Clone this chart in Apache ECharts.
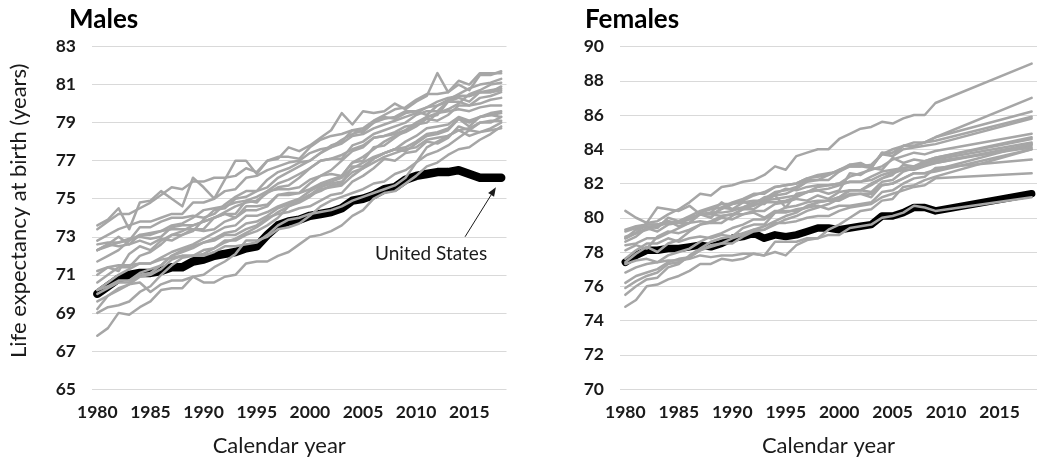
<!DOCTYPE html>
<html><head><meta charset="utf-8">
<script src="https://cdn.jsdelivr.net/npm/echarts@6/dist/echarts.min.js"></script>
<style>html,body{margin:0;padding:0;background:#fff}#c{width:1050px;height:462px}</style>
</head><body><div id="c"></div>
<script>
const years = [1980,1981,1982,1983,1984,1985,1986,1987,1988,1989,1990,1991,1992,1993,1994,1995,1996,1997,1998,1999,2000,2001,2002,2003,2004,2005,2006,2007,2008,2009,2010,2011,2012,2013,2014,2015,2016,2017,2018];
const yearTickLabels = [1980,1985,1990,1995,2000,2005,2010,2015];

// Males
const usM  = [70.0,70.4,70.8,71.0,71.1,71.1,71.2,71.4,71.4,71.7, 71.8,72.0,72.1,72.2,72.4,72.5,73.1,73.6,73.8,73.9, 74.1,74.2,74.3,74.5,74.9,75.0,75.2,75.5,75.6,76.0, 76.2,76.3,76.4,76.4,76.5,76.3,76.1,76.1,76.1];
const iceM = [73.6,73.9,74.5,73.4,74.8,74.9,75.4,75.0,74.6,76.1, 75.6,75.0,76.0,77.0,77.0,76.3,77.0,77.1,77.7,77.5, 77.8,78.2,78.6,79.5,78.9,79.6,79.5,79.6,80.0,79.7, 80.1,80.4,81.6,80.6,81.2,81.0,81.6,81.6,81.6];
const jpnM = [73.4,73.8,74.2,74.2,74.5,74.8,75.2,75.6,75.5,75.9, 75.9,76.1,76.1,76.2,76.6,76.4,77.0,77.2,77.2,77.1, 77.7,78.1,78.3,78.4,78.6,78.5,79.0,79.2,79.3,79.6, 79.6,79.4,79.9,80.2,80.5,80.8,81.0,81.1,81.3];
const sweM = [72.8,73.1,73.4,73.6,73.8,73.8,74.0,74.2,74.2,74.8, 74.8,75.0,75.4,75.5,76.1,76.2,76.5,76.7,76.9,77.0, 77.4,77.6,77.7,77.9,78.3,78.4,78.7,78.9,79.1,79.3, 79.5,79.8,79.9,80.1,80.4,80.4,80.6,80.7,80.8];
const nldM = [72.6,72.7,72.7,72.9,73.0,72.9,73.0,73.5,73.6,73.6, 73.8,74.0,74.2,74.0,74.6,74.6,74.7,75.2,75.2,75.3, 75.5,75.8,76.0,76.2,76.9,77.2,77.6,78.0,78.3,78.5, 78.8,79.2,79.1,79.4,79.9,79.9,80.0,80.2,80.3];
const norM = [72.3,72.6,72.5,72.6,72.8,72.6,72.9,72.8,73.1,73.4, 73.4,74.0,74.2,74.2,74.9,74.8,75.4,75.5,75.5,75.6, 76.0,76.2,76.5,77.0,77.5,77.7,78.2,78.3,78.4,78.6, 78.9,79.0,79.5,79.7,80.0,80.5,80.7,81.0,81.1];
const espM = [72.3,72.6,73.0,72.6,73.1,73.2,73.3,73.4,73.4,73.4, 73.3,73.4,73.8,74.0,74.4,74.4,74.6,75.2,75.3,75.3, 75.8,76.2,76.3,76.2,76.9,77.0,77.7,77.8,78.2,78.6, 79.0,79.3,79.4,80.1,80.1,79.9,80.3,80.4,80.6];
const cheM = [72.3,72.5,72.7,72.8,73.5,73.5,73.8,74.0,74.0,74.1, 74.0,74.2,74.7,75.1,75.4,75.4,76.0,76.4,76.6,76.9, 77.0,77.4,77.8,78.0,78.6,78.7,79.1,79.4,79.7,79.8, 80.2,80.5,80.5,80.6,81.0,80.7,81.5,81.5,81.7];
const canM = [71.7,72.0,72.3,72.8,73.1,73.1,73.3,73.6,73.7,74.0, 74.4,74.5,74.6,74.8,74.9,75.1,75.4,75.8,76.0,76.3, 76.6,77.0,77.1,77.3,77.6,77.8,78.2,78.3,78.5,78.8, 78.9,79.3,79.5,79.6,79.7,79.6,79.8,79.9,79.9];
const ausM = [71.0,71.4,71.2,72.1,72.5,72.3,72.8,73.1,73.1,73.3, 73.9,74.4,74.5,75.0,75.1,75.4,75.6,76.1,76.4,76.7, 77.0,77.4,77.7,78.1,78.4,78.6,79.0,79.3,79.2,79.5, 79.6,79.8,80.1,80.3,80.4,80.4,80.6,80.6,80.7];
const itaM = [70.6,71.0,71.4,71.4,72.0,72.2,72.6,73.1,73.3,73.6, 73.8,74.0,74.3,74.6,74.8,74.9,75.3,75.6,75.7,76.1, 76.6,77.0,77.1,77.1,77.8,78.0,78.4,78.6,78.8,79.0, 79.4,79.6,79.6,80.1,80.3,80.1,80.6,80.6,80.9];
const fraM = [70.2,70.4,70.7,70.7,71.1,71.3,71.5,72.0,72.3,72.5, 72.7,72.9,73.2,73.3,73.7,73.8,74.1,74.5,74.7,74.9, 75.2,75.4,75.7,75.8,76.7,76.7,77.1,77.4,77.6,77.7, 78.0,78.4,78.5,78.7,79.2,79.0,79.3,79.5,79.6];
const gbrM = [70.2,70.6,71.0,71.3,71.6,71.6,71.9,72.2,72.4,72.6, 72.9,73.2,73.5,73.6,74.1,74.1,74.3,74.6,74.8,75.0, 75.4,75.7,75.9,76.1,76.6,76.9,77.2,77.4,77.6,78.0, 78.3,78.7,78.8,78.9,79.3,79.1,79.3,79.4,79.5];
const belM = [70.0,70.3,70.6,70.6,71.0,71.1,71.5,72.0,72.2,72.4, 72.7,72.8,73.1,73.1,73.4,73.6,74.0,74.2,74.3,74.5, 74.6,74.9,75.2,75.3,75.9,76.2,76.6,77.1,77.0,77.4, 77.5,78.0,77.9,78.2,78.8,78.6,79.0,79.0,79.3];
const dnkM = [71.2,71.4,71.5,71.5,71.6,71.6,71.8,71.9,72.0,72.0, 72.0,72.2,72.5,72.5,72.6,72.7,73.1,73.6,73.9,74.0, 74.2,74.3,74.4,74.6,74.9,75.1,75.3,75.5,75.7,76.1, 76.9,77.7,78.0,78.3,78.6,78.7,79.0,79.1,79.1];
const deuM = [69.6,69.9,70.2,70.5,70.9,71.0,71.3,71.8,72.0,72.0, 72.1,72.4,72.8,72.8,73.1,73.3,73.6,74.0,74.6,74.8, 75.1,75.5,75.6,75.7,76.2,76.6,76.9,77.2,77.4,77.6, 77.7,78.1,78.2,78.3,78.6,78.3,78.5,78.6,78.7];
const finM = [69.2,69.9,70.3,70.5,70.6,70.1,70.5,70.7,70.7,70.9, 71.0,71.4,71.7,72.1,72.8,72.8,73.0,73.4,73.5,73.7, 74.1,74.6,74.9,75.1,75.3,75.5,75.8,75.9,76.3,76.5, 76.9,77.3,77.5,77.8,78.2,78.6,78.5,78.7,79.0];
const autM = [69.0,69.3,69.4,69.6,70.1,70.4,71.0,71.5,71.9,72.0, 72.3,72.4,72.7,72.9,73.2,73.5,73.9,74.3,74.6,74.9, 75.2,75.6,75.8,75.9,76.4,76.6,77.1,77.4,77.6,77.5, 77.9,78.3,78.4,78.6,79.2,78.8,79.3,79.4,79.3];
const prtM = [67.8,68.2,69.0,68.9,69.3,69.6,70.2,70.3,70.3,70.9, 70.6,70.6,70.9,71.0,71.6,71.7,71.7,72.0,72.2,72.6, 73.0,73.1,73.3,73.6,74.1,74.4,75.0,75.3,75.4,75.8, 76.2,76.7,76.9,77.3,77.6,77.7,78.1,78.4,78.8];

// Females (no yearly values 2010-2017 in the source: drawn as a straight segment to 2018)
const usF  = [77.4,77.8,78.1,78.1,78.2,78.2,78.3,78.4,78.3,78.5, 78.8,78.9,79.1,78.8,79.0,78.9,79.0,79.2,79.4,79.4, 79.3,79.4,79.5,79.6,80.1,80.1,80.3,80.6,80.6,80.4, null,null,null,null,null,null,null,null, 81.4];
const jpnF = [78.8,79.1,79.7,79.8,80.2,80.5,80.9,81.4,81.3,81.8, 81.9,82.1,82.2,82.5,83.0,82.8,83.6,83.8,84.0,84.0, 84.6,84.9,85.2,85.3,85.6,85.5,85.8,86.0,86.0,86.7, null,null,null,null,null,null,null,null, 89.0];
const islF = [80.4,80.0,79.7,80.6,80.5,80.4,80.7,80.2,80.3,80.9, 80.5,80.9,80.8,81.2,81.3,80.6,81.4,81.5,81.6,81.4, 81.6,82.6,82.5,82.9,82.8,83.5,83.2,83.4,83.3,83.5, null,null,null,null,null,null,null,null, 84.7];
const fraF = [78.4,78.5,78.8,78.8,79.1,79.4,79.7,80.3,80.5,80.6, 80.9,81.1,81.4,81.4,81.8,81.9,82.0,82.3,82.4,82.5, 82.8,83.0,83.0,82.9,83.8,83.8,84.2,84.4,84.4,84.7, null,null,null,null,null,null,null,null, 87.0];
const espF = [78.6,78.9,79.4,79.2,79.6,79.7,79.9,80.2,80.3,80.3, 80.4,80.6,80.9,81.1,81.5,81.6,81.8,82.2,82.2,82.2, 82.7,83.1,83.1,83.0,83.7,83.6,84.2,84.2,84.4,84.7, null,null,null,null,null,null,null,null, 86.2];
const cheF = [78.8,79.3,79.5,79.4,80.0,79.8,80.1,80.4,80.6,80.8, 80.8,81.0,81.3,81.5,81.8,81.9,82.0,82.3,82.5,82.6, 82.7,83.0,83.0,83.1,83.7,84.0,84.2,84.2,84.4,84.5, null,null,null,null,null,null,null,null, 85.9];
const itaF = [77.4,77.9,78.3,78.0,78.5,78.7,79.2,79.6,79.8,80.1, 80.2,80.5,80.7,81.0,81.3,81.4,81.7,82.1,82.2,82.5, 82.8,83.1,83.2,82.9,83.8,83.6,84.0,84.1,84.2,84.3, null,null,null,null,null,null,null,null, 85.8];
const ausF = [78.1,78.4,78.2,78.9,79.2,79.1,79.3,79.6,79.7,79.7, 80.1,80.5,80.5,80.9,80.9,81.0,81.2,81.5,81.8,81.9, 82.0,82.4,82.6,82.8,83.0,83.4,83.6,83.8,83.7,83.9, null,null,null,null,null,null,null,null, 84.9];
const sweF = [78.8,79.1,79.4,79.6,79.8,79.7,80.0,80.2,80.0,80.6, 80.5,80.6,80.8,80.8,81.4,81.7,81.6,81.8,81.9,81.9, 82.0,82.1,82.1,82.4,82.7,82.8,82.9,83.0,83.2,83.4, null,null,null,null,null,null,null,null, 84.4];
const norF = [79.3,79.5,79.6,79.6,79.8,79.5,79.7,79.8,79.7,80.0, 79.9,80.2,80.4,80.4,80.8,80.9,81.1,81.0,81.3,81.1, 81.5,81.6,81.6,82.0,82.3,82.6,82.8,82.8,83.0,83.2, null,null,null,null,null,null,null,null, 84.3];
const finF = [77.6,78.1,78.5,78.5,78.8,78.6,78.8,78.9,78.8,79.0, 78.9,79.4,79.6,79.6,80.3,80.3,80.5,80.6,80.9,81.0, 81.2,81.6,81.6,81.9,82.3,82.5,83.1,83.0,83.3,83.5, null,null,null,null,null,null,null,null, 84.6];
const autF = [75.5,76.0,76.4,76.5,77.1,77.3,77.8,78.2,78.6,78.8, 78.9,79.1,79.3,79.5,79.8,80.1,80.3,80.7,80.9,81.0, 81.2,81.6,81.6,81.5,82.1,82.2,82.7,82.9,83.1,83.2, null,null,null,null,null,null,null,null, 84.2];
const canF = [78.9,79.1,79.3,79.5,79.7,79.8,80.0,80.2,80.2,80.5, 80.8,80.9,81.0,81.0,81.1,81.2,81.3,81.5,81.6,81.7, 81.9,82.1,82.1,82.2,82.5,82.7,82.9,83.0,83.1,83.3, null,null,null,null,null,null,null,null, 84.1];
const deuF = [75.9,76.3,76.6,76.8,77.3,77.4,77.7,78.1,78.4,78.5, 78.5,78.9,79.2,79.3,79.6,79.9,80.1,80.4,80.6,80.8, 81.1,81.4,81.4,81.4,81.9,82.0,82.3,82.6,82.6,82.7, null,null,null,null,null,null,null,null, 84.0];
const nldF = [79.2,79.4,79.6,79.6,79.7,79.7,79.7,80.2,80.2,80.1, 80.2,80.2,80.3,80.0,80.4,80.4,80.4,80.6,80.7,80.5, 80.7,80.7,80.8,80.9,81.5,81.6,82.0,82.3,82.4,82.9, null,null,null,null,null,null,null,null, 83.4];
const belF = [76.8,77.1,77.3,77.4,77.8,78.0,78.2,78.6,78.9,79.1, 79.4,79.6,79.9,79.9,80.3,80.6,80.7,80.9,81.0,81.0, 81.0,81.3,81.4,81.2,81.9,82.0,82.3,82.6,82.6,82.8, null,null,null,null,null,null,null,null, 84.3];
const gbrF = [76.2,76.6,76.8,77.0,77.4,77.6,77.7,78.1,78.3,78.5, 78.8,79.0,79.3,79.3,79.7,79.7,79.8,80.0,80.1,80.1, 80.4,80.6,80.7,80.8,81.2,81.4,81.6,81.8,81.9,82.3, null,null,null,null,null,null,null,null, 82.6];
const dnkF = [77.3,77.5,77.6,77.4,77.5,77.5,77.6,77.8,77.7,77.8, 77.8,77.9,77.9,77.8,78.0,77.8,78.4,78.7,78.8,79.0, 79.0,79.4,79.5,79.6,80.0,80.1,80.3,80.7,80.6,80.4, null,null,null,null,null,null,null,null, 81.2];
const prtF = [74.8,75.2,76.0,76.1,76.4,76.6,76.9,77.3,77.3,77.6, 77.5,77.6,77.9,77.8,78.6,78.6,78.6,78.8,78.8,79.3, 79.6,80.0,80.4,80.5,81.0,81.1,81.8,81.9,82.2,82.4, null,null,null,null,null,null,null,null, 84.0];

const maleOthers = [iceM,jpnM,sweM,nldM,norM,espM,cheM,canM,ausM,itaM,fraM,gbrM,belM,dnkM,deuM,finM,autM,prtM];
const femaleOthers = [jpnF,islF,fraF,espF,cheF,itaF,ausF,sweF,norF,finF,autF,canF,deuF,nldF,belF,gbrF,dnkF,prtF];

// annotation anchor (data units)
const usLabelText = 'United States';
const usLabelAt = [2011.4, 72.1];
const arrowFrom = [2014.6, 73.0];
const arrowTo = [2017.5, 75.6];

const FONT = 'Lato, "Open Sans", sans-serif';
const GRAY = '#a6a6a6';
const chart = echarts.init(document.getElementById('c'));

function line(arr, gi, color, width) {
  return {
    type: 'line', xAxisIndex: gi, yAxisIndex: gi,
    data: years.map((y, i) => [y, arr[i]]),
    showSymbol: false, symbol: 'none', connectNulls: true,
    silent: true, animation: false,
    lineStyle: { color: color, width: width, cap: 'round', join: 'round' }
  };
}

function xAxis(gi, namePad) {
  return {
    gridIndex: gi, type: 'value', min: 1979.5, max: 2018.5, interval: 0.5,
    axisLine: { show: false }, axisTick: { show: false }, splitLine: { show: false },
    axisLabel: {
      margin: 14, fontFamily: FONT, fontWeight: 'bold', fontSize: 17.5, color: '#1a1a1a',
      formatter: v => (yearTickLabels.indexOf(v) >= 0 ? String(v) : '')
    },
    name: 'Calendar year', nameLocation: 'middle', nameGap: 46,
    nameTextStyle: { fontFamily: FONT, fontSize: 22, color: '#1a1a1a', padding: namePad }
  };
}
function yAxis(gi, min, max, withName) {
  const a = {
    gridIndex: gi, type: 'value', min: min, max: max, interval: 2,
    axisLine: { show: false }, axisTick: { show: false },
    splitLine: { show: true, lineStyle: { color: '#d9d9d9', width: 1 } },
    axisLabel: { margin: 16, fontFamily: FONT, fontWeight: 'bold', fontSize: 17.5, color: '#1a1a1a' }
  };
  if (withName) {
    a.name = 'Life expectancy at birth (years)';
    a.nameLocation = 'middle';
    a.nameGap = 62;
    a.nameTextStyle = { fontFamily: FONT, fontSize: 22, color: '#1a1a1a', padding: [0, 0, 0, 14] };
  }
  return a;
}

const series = [];
series.push(line(usM, 0, '#000', 8.5));
maleOthers.forEach(a => series.push(line(a, 0, GRAY, 2.5)));
series.push(line(usF, 1, '#000', 7.5));
femaleOthers.forEach(a => series.push(line(a, 1, GRAY, 2.5)));

chart.setOption({
  animation: false,
  backgroundColor: '#fff',
  title: [
    { text: 'Males', left: 64, top: 2, textStyle: { fontFamily: FONT, fontWeight: 'bold', fontSize: 26, color: '#000' } },
    { text: 'Females', left: 580, top: 2, textStyle: { fontFamily: FONT, fontWeight: 'bold', fontSize: 26, color: '#000' } }
  ],
  grid: [
    { left: 92, top: 46.5, width: 414.5, height: 342.5 },
    { left: 620, top: 46.5, width: 417, height: 342.5 }
  ],
  xAxis: [xAxis(0, [0, 40, 0, 0]), xAxis(1, [0, 0, 0, 0])],
  yAxis: [yAxis(0, 65, 83, true), yAxis(1, 70, 90, false)],
  series: series
});

// annotation: label + arrow, positioned through the chart's own coordinate conversion
const p = chart.convertToPixel({ gridIndex: 0 }, usLabelAt);
const a0 = chart.convertToPixel({ gridIndex: 0 }, arrowFrom);
const a1 = chart.convertToPixel({ gridIndex: 0 }, arrowTo);
const dx = a1[0] - a0[0], dy = a1[1] - a0[1];
const len = Math.sqrt(dx * dx + dy * dy), ux = dx / len, uy = dy / len;
const headL = 9, headW = 3.5;
const bx = a1[0] - ux * headL, by = a1[1] - uy * headL;
chart.setOption({
  graphic: [
    { type: 'text', x: p[0], y: p[1], silent: true, z: 100,
      style: { text: usLabelText, fill: '#1a1a1a', font: '19px ' + FONT, align: 'center', verticalAlign: 'middle' } },
    { type: 'line', silent: true, z: 100,
      shape: { x1: a0[0], y1: a0[1], x2: bx, y2: by },
      style: { stroke: '#1a1a1a', lineWidth: 1 } },
    { type: 'polygon', silent: true, z: 100,
      shape: { points: [[a1[0], a1[1]], [bx - uy * headW, by + ux * headW], [bx + uy * headW, by - ux * headW]] },
      style: { fill: '#1a1a1a' } }
  ]
});
</script>
</body></html>
